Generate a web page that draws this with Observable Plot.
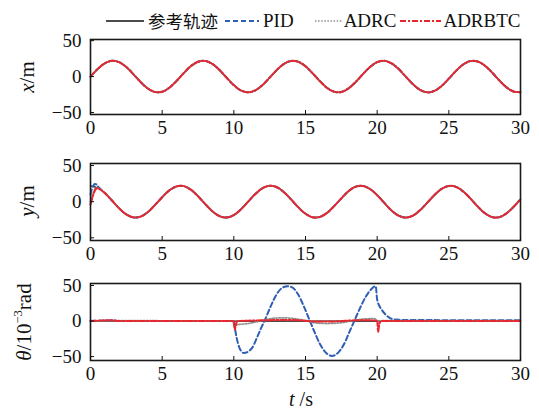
<!DOCTYPE html>
<html>
<head>
<meta charset="utf-8">
<script src="https://cdn.jsdelivr.net/npm/d3@7"></script>
<script src="https://cdn.jsdelivr.net/npm/@observablehq/plot@0.6"></script>
<style>
  html, body { margin: 0; padding: 0; background: #fff; }
  #chart { position: relative; width: 539px; height: 412px; background: #fff; font-family: "Liberation Serif", serif; color: #111; overflow: hidden; }
  .panel { position: absolute; left: 0; }
  .ylab { position: absolute; transform: translate(-50%, -50%) rotate(-90deg); white-space: nowrap; font-size: 21px; font-family: "Liberation Serif", serif; }
  .ylab sup { font-size: 0.6em; vertical-align: 0.7em; line-height: 0; }
  .xlab { position: absolute; transform: translate(-50%, -50%); white-space: nowrap; font-size: 20px; }
  #legend { position: absolute; top: 9px; left: 106px; height: 24px; display: flex; align-items: center; white-space: nowrap; }
  #legend .sw { display: block; }
  #legend .lt { font-size: 19px; font-family: "Liberation Serif", serif; line-height: 24px; }
  #legend .cjk { font-family: "Noto Sans CJK SC", sans-serif; font-size: 17.5px; }
</style>
</head>
<body>
<div id="chart"></div>
<script>
// ---------------- data ----------------
const seriesNames = ["参考轨迹", "PID", "ADRC", "ADRBTC"];
const seriesColors = ["#111111", "#2f5fb3", "#8f8f8f", "#e8262d"];
const seriesDash = [null, "5,3", "1.5,1.6", "6,2,2,2"];
const seriesWidth = [1.3, 2, 1.7, 2];

const xTicks = [0, 5, 10, 15, 20, 25, 30];
const yTicks = [-50, 0, 50];
const yLabels = ["x/m", "y/m", "θ/10⁻³rad"];
const xLabel = "t /s";

// time grid (s)
const tGrid = [0, 0.5, 1, 1.5, 2, 2.5, 3, 3.5, 4, 4.5, 5, 5.5, 6, 6.5, 7, 7.5, 8, 8.5, 9, 9.5,
  10, 10.5, 11, 11.5, 12, 12.5, 13, 13.5, 14, 14.5, 15, 15.5, 16, 16.5, 17, 17.5, 18, 18.5, 19, 19.5,
  20, 20.5, 21, 21.5, 22, 22.5, 23, 23.5, 24, 24.5, 25, 25.5, 26, 26.5, 27, 27.5, 28, 28.5, 29, 29.5, 30];

// x (m): reference trajectory, tracked closely by all controllers
const xRef = [0, 10.5, 18.5, 21.9, 20.0, 13.2, 3.1, -7.7, -16.6, -21.5, -21.1, -15.5, -6.2, 4.7, 14.5, 20.6,
  21.8, 17.6, 9.1, -1.7, -12.0, -19.4, -22.0, -19.2, -11.8, -1.5, 9.2, 17.7, 21.8, 20.6, 14.3, 4.5,
  -6.3, -15.7, -21.1, -21.5, -16.5, -7.5, 3.3, 13.3, 20.1, 21.9, 18.4, 10.4, -0.2, -10.7, -18.6, -22.0,
  -19.9, -13.0, -2.9, 7.9, 16.8, 21.6, 21.0, 15.4, 6.0, -4.9, -14.6, -20.7, -21.7];
const xPID = xRef, xADRC = xRef, xADRBTC = xRef;

// y (m): reference trajectory
const yRef = [22, 19.3, 11.9, 1.6, -9.2, -17.6, -21.8, -20.6, -14.4, -4.6, 6.2, 15.6, 21.1, 21.5, 16.6, 7.6,
  -3.2, -13.2, -20.0, -21.9, -18.5, -10.5, 0.1, 10.6, 18.6, 22.0, 20.0, 13.1, 3.0, -7.8, -16.7, -21.6,
  -21.1, -15.5, -6.1, 4.6, 14.5, 20.7, 21.8, 17.5, 9.0, -1.7, -12.1, -19.4, -22.0, -19.2, -11.7, -1.4,
  9.3, 17.7, 21.8, 20.5, 14.2, 4.4, -6.4, -15.7, -21.2, -21.5, -16.5, -7.5, 3.4];
// y start-up transients (t < 1 s), afterwards the controllers follow yRef
const tYStart = [0, 0.1, 0.2, 0.3, 0.4, 0.5, 0.75];
const yPIDStart = [10, 18, 22, 24.5, 24, 21.5, 16.5];
const yADRCStart = [0, 7, 13, 17, 19, 19, 16];
const yADRBTCStart = [-4, 3, 10, 15, 18, 18.5, 16];

// theta (1e-3 rad)
const tThetaRef = [0, 30];
const thetaRef = [0, 0];
const tThetaPID = [0, 1.5, 2, 9.95, 10.05, 10.2, 10.4, 10.7, 11.0, 11.3, 11.6, 11.9, 12.2, 12.6, 13.0, 13.4,
  13.75, 14.1, 14.5, 14.9, 15.25, 15.6, 16.0, 16.4, 16.85, 17.3, 17.7, 18.05, 18.4, 18.8, 19.2, 19.6,
  19.9, 20.0, 20.35, 20.6, 20.9, 21.3, 22, 30];
const thetaPID = [0, 1, 0, 0, -8, -24, -38, -45, -43, -37, -24, -10, 3, 22, 38, 47,
  49, 47, 37, 20, 3, -14, -32, -44, -49, -44, -32, -16, 0, 18, 34, 45,
  49, 30, 15, 9, 4, 2, 1.5, 1];
const tThetaADRC = [0, 2, 9.95, 10.05, 10.3, 11, 11.6, 12.2, 12.8, 13.5, 14.2, 14.8, 15.3, 15.9, 16.5,
  17.2, 17.9, 18.5, 19.2, 19.8, 20.05, 20.3, 21, 30];
const thetaADRC = [0, 0.5, 0, -6, -5, -3.5, -1, 2, 4, 4.5, 3.5, 1.5, -1, -3, -3.5,
  -3, -1, 1.5, 3, 3.5, 0, 0.5, 0.5, 0.5];
const tThetaADRBTC = [0, 1.5, 2, 10.0, 10.07, 10.15, 10.3, 11, 12, 13.5, 15, 15.5, 17, 18.5, 19.5,
  20.0, 20.07, 20.15, 20.3, 21, 30];
const thetaADRBTC = [0, 1, 0, 0, -12, -4, 0, 0.5, 1, 1.5, 0.5, -0.5, -0.5, 1, 1,
  0.5, -15, -4, 0, 0, 0];

// ---------------- helpers ----------------
const zip = (ts, vs) => ts.map((t, i) => ({t, v: vs[i]}));
const yTrack = (start) => zip(tYStart.concat(tGrid.slice(2)), start.concat(yRef.slice(2)));

const panels = [
  {
    series: [zip(tGrid, xRef), zip(tGrid, xPID), zip(tGrid, xADRC), zip(tGrid, xADRBTC)],
    domain: [-52.8, 51.6], top: 30, height: 112, mt: 9, mb: 28, curve: "catmull-rom"
  },
  {
    series: [zip(tGrid, yRef), yTrack(yPIDStart), yTrack(yADRCStart), yTrack(yADRBTCStart)],
    domain: [-53.7, 52.8], top: 150, height: 116, mt: 13, mb: 26, curve: "catmull-rom"
  },
  {
    series: [zip(tThetaRef, thetaRef), zip(tThetaPID, thetaPID), zip(tThetaADRC, thetaADRC), zip(tThetaADRBTC, thetaADRBTC)],
    domain: [-55.5, 52.8], top: 270, height: 142, mt: 13, mb: 52, curve: "monotone-x"
  }
];

const chart = document.getElementById("chart");

panels.forEach((p) => {
  const marks = [
    ...p.series.map((data, i) => Plot.line(data, {
      x: "t", y: "v",
      stroke: seriesColors[i],
      strokeWidth: seriesWidth[i],
      strokeDasharray: seriesDash[i],
      curve: p.curve
    })),
    Plot.frame({stroke: "#1a1a1a", strokeWidth: 1.6}),
    Plot.axisX({ticks: xTicks, tickSize: -4, tickPadding: 10, fontSize: 19, label: null, tickFormat: (d) => String(d)}),
    Plot.axisY({ticks: yTicks, tickSize: -4, tickPadding: 13, fontSize: 19, label: null})
  ];
  const svg = Plot.plot({
    width: 539,
    height: p.height,
    marginLeft: 90,
    marginRight: 19,
    marginTop: p.mt,
    marginBottom: p.mb,
    x: {domain: [0, 30]},
    y: {domain: p.domain},
    style: {fontFamily: "Liberation Serif, serif", fontSize: "19px", color: "#111", background: "transparent", overflow: "visible"},
    marks
  });
  svg.classList.add("panel");
  svg.style.top = p.top + "px";
  chart.appendChild(svg);
});

// y-axis labels
const ylabPos = [[27, 77], [27, 201], [24, 322]];
const ylabHTML = [
  "<i>x</i>/m",
  "<i>y</i>/m",
  "<i>θ</i>/10<sup>−3</sup>rad"
];
ylabHTML.forEach((h, i) => {
  const d = document.createElement("div");
  d.className = "ylab";
  d.style.left = ylabPos[i][0] + "px";
  d.style.top = ylabPos[i][1] + "px";
  d.innerHTML = h;
  d.title = yLabels[i];
  chart.appendChild(d);
});

// x-axis label
const xl = document.createElement("div");
xl.className = "xlab";
xl.style.left = "301px";
xl.style.top = "399px";
xl.innerHTML = "<i>t</i> /s";
chart.appendChild(xl);

// legend
const legend = document.createElement("div");
legend.id = "legend";
const swW = [38, 34, 28, 41];
const gapBefore = [0, 7, 21, 4];
const gapAfter = [4, 4, 1, 2];
seriesNames.forEach((name, i) => {
  const sw = document.createElementNS("http://www.w3.org/2000/svg", "svg");
  sw.setAttribute("width", swW[i]);
  sw.setAttribute("height", 10);
  sw.classList.add("sw");
  sw.style.marginLeft = gapBefore[i] + "px";
  sw.style.marginRight = gapAfter[i] + "px";
  const ln = document.createElementNS("http://www.w3.org/2000/svg", "line");
  ln.setAttribute("x1", 0); ln.setAttribute("x2", swW[i]);
  ln.setAttribute("y1", 5); ln.setAttribute("y2", 5);
  ln.setAttribute("stroke", seriesColors[i]);
  ln.setAttribute("stroke-width", seriesWidth[i]);
  if (seriesDash[i]) ln.setAttribute("stroke-dasharray", seriesDash[i]);
  sw.appendChild(ln);
  legend.appendChild(sw);
  const s = document.createElement("span");
  s.className = "lt" + (i === 0 ? " cjk" : "");
  s.textContent = name;
  legend.appendChild(s);
});
chart.appendChild(legend);
</script>
</body>
</html>
